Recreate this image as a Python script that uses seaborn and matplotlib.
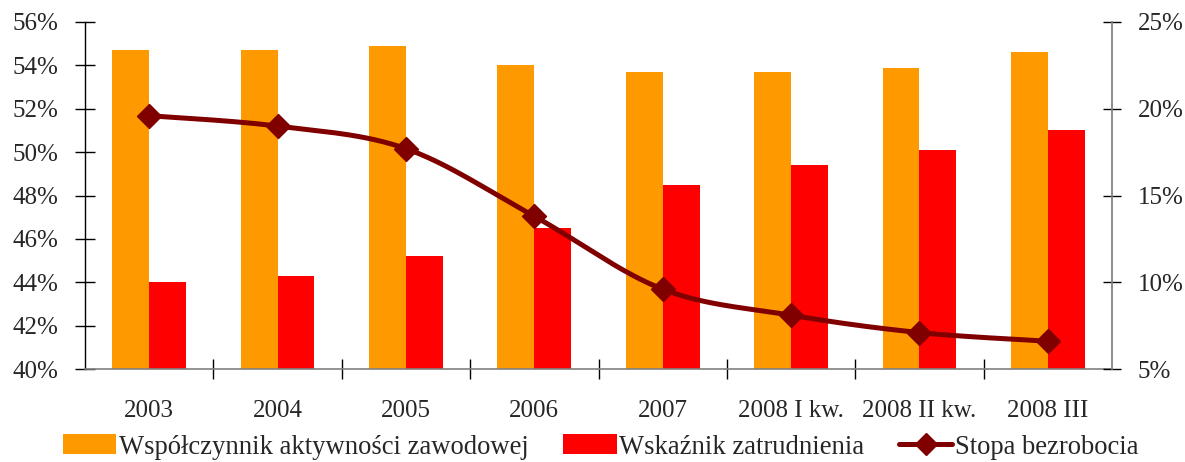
import numpy as np
import pandas as pd
import matplotlib
matplotlib.use("Agg")
import matplotlib.pyplot as plt
from matplotlib.ticker import FuncFormatter, FixedLocator, NullFormatter
from matplotlib.patches import Patch
from matplotlib.lines import Line2D
import seaborn as sns

categories = ["2003", "2004", "2005", "2006", "2007", "2008 I kw.", "2008 II kw.", "2008 III"]
aktywnosc = [54.7, 54.7, 54.9, 54.0, 53.7, 53.7, 53.9, 54.6]
zatrudnienie = [44.0, 44.3, 45.2, 46.5, 48.5, 49.4, 50.1, 51.0]
bezrobocie = [19.6, 19.0, 17.7, 13.8, 9.6, 8.1, 7.1, 6.6]

lab_akt = "Współczynnik aktywności zawodowej"
lab_zat = "Wskaźnik zatrudnienia"
lab_bez = "Stopa bezrobocia"

col_akt = "#FF9900"
col_zat = "#FF0000"
col_bez = "#800000"

sns.set_theme(style="white")
plt.rcParams["font.family"] = ["Liberation Serif", "DejaVu Serif"]
FS = 18

df = pd.DataFrame({
    "kat": categories * 2,
    "val": aktywnosc + zatrudnienie,
    "ser": [lab_akt] * len(categories) + [lab_zat] * len(categories),
})

W, H = 1185, 462
fig = plt.figure(figsize=(W / 100, H / 100), dpi=100)
ax = fig.add_axes([85 / W, 1 - 369 / H, (1112 - 85) / W, (369 - 22) / H])

sns.barplot(data=df, x="kat", y="val", hue="ser", palette=[col_akt, col_zat],
            width=0.575, ax=ax, legend=False, edgecolor="none", saturation=1)

ax.set_ylim(40, 56)
ax.set_xlim(-0.5, len(categories) - 0.5)
ax.yaxis.set_major_locator(FixedLocator(np.arange(40, 56.1, 2)))
ax.yaxis.set_major_formatter(FuncFormatter(lambda v, p: f"{v:.0f}%"))
ax.set_xlabel("")
ax.set_ylabel("")
ax.tick_params(axis="y", direction="inout", length=15, width=1, color="black",
               labelsize=FS, pad=12, left=True)
ax.tick_params(axis="x", which="major", length=0, labelsize=FS, pad=22)
ax.xaxis.set_minor_locator(FixedLocator(np.arange(0.5, len(categories) - 1, 1)))
ax.xaxis.set_minor_formatter(NullFormatter())
ax.tick_params(axis="x", which="minor", direction="inout", length=15, width=1,
               color="black", bottom=True)
for s in ["top", "right"]:
    ax.spines[s].set_visible(False)
ax.spines["left"].set_color("black")
ax.spines["bottom"].set_color("#808080")
ax.spines["left"].set_linewidth(1)
ax.spines["bottom"].set_linewidth(1.2)
ax.grid(False)

ax2 = ax.twinx()
ax2.set_ylim(5, 25)
ax2.yaxis.set_major_locator(FixedLocator(np.arange(5, 25.1, 5)))
ax2.yaxis.set_major_formatter(FuncFormatter(lambda v, p: f"{v:.0f}%"))
ax2.tick_params(axis="y", direction="inout", length=13, width=1, color="black",
                labelsize=FS, pad=12, right=True)
for s in ["top", "left", "bottom"]:
    ax2.spines[s].set_visible(False)
ax2.spines["right"].set_color("#808080")
ax2.grid(False)

# smoothed line (Catmull-Rom, Excel-like) through the data points
xs = np.arange(len(bezrobocie), dtype=float)
ys = np.array(bezrobocie, dtype=float)
px = np.concatenate([[xs[0]], xs, [xs[-1]]])
py = np.concatenate([[ys[0]], ys, [ys[-1]]])
cx, cy = [], []
t = np.linspace(0, 1, 30)
for i in range(1, len(px) - 2):
    p0, p1, p2, p3 = (np.array([px[j], py[j]]) for j in (i - 1, i, i + 1, i + 2))
    c1 = p1 + (p2 - p0) / 6
    c2 = p2 - (p3 - p1) / 6
    b = ((1 - t) ** 3)[:, None] * p1 + (3 * (1 - t) ** 2 * t)[:, None] * c1 \
        + (3 * (1 - t) * t ** 2)[:, None] * c2 + (t ** 3)[:, None] * p2
    cx.extend(b[:, 0]); cy.extend(b[:, 1])
ax2.plot(cx, cy, color=col_bez, lw=3.6, solid_capstyle="round", zorder=3)
sns.scatterplot(x=xs, y=ys, marker="D", s=150, color=col_bez, edgecolor=col_bez,
                ax=ax2, zorder=4, legend=False)

handles = [
    Patch(facecolor=col_akt, edgecolor="none", label=lab_akt),
    Patch(facecolor=col_zat, edgecolor="none", label=lab_zat),
    Line2D([0], [0], color=col_bez, lw=3.6, marker="D", markersize=11, label=lab_bez),
]
fig.legend(handles=handles, loc="center", bbox_to_anchor=(0.507, 1 - 447 / H), ncol=3,
           frameon=False, fontsize=19.2, handlelength=2.0, handleheight=0.75,
           handletextpad=0.1, columnspacing=1.3, borderaxespad=0)

fig.savefig("out.png", dpi=100)
